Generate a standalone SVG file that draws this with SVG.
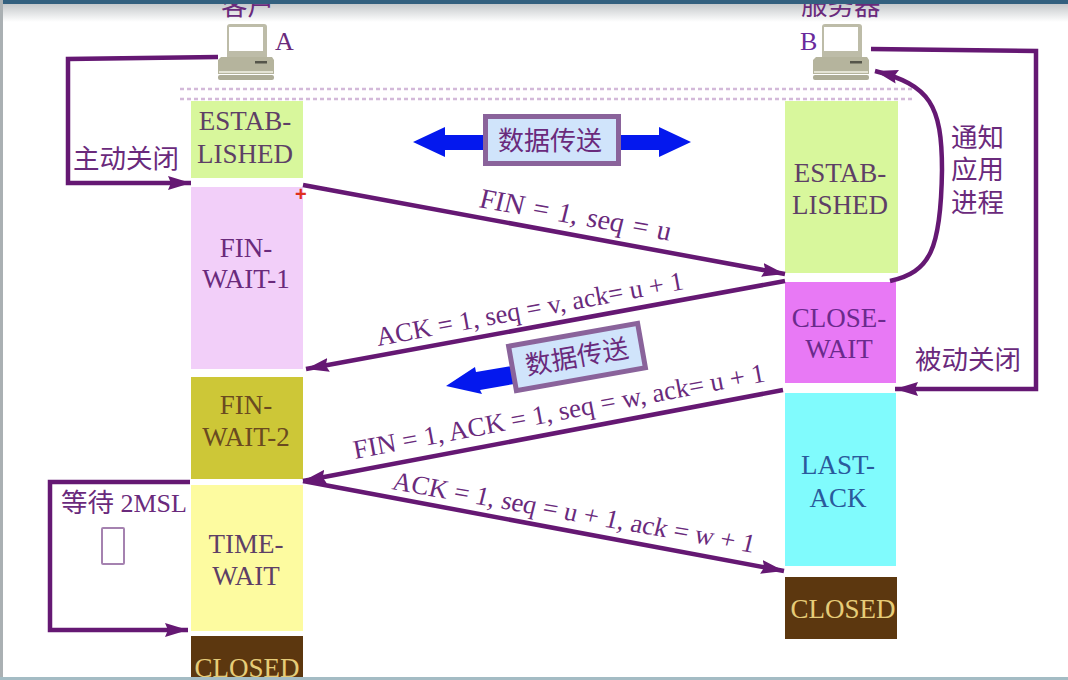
<svg xmlns="http://www.w3.org/2000/svg" width="1068" height="680" viewBox="0 0 1068 680">
<defs>
<linearGradient id="top" x1="0" y1="0" x2="0" y2="1"><stop offset="0" stop-color="#b8bcbf"/><stop offset="1" stop-color="#ffffff"/></linearGradient>
<marker id="ah" markerUnits="userSpaceOnUse" markerWidth="24" markerHeight="16" refX="23" refY="8" orient="auto"><path d="M0 1L23 8L0 15L3 8Z" fill="#651873"/></marker>
<g id="pc">
<rect x="9" y="0" width="40" height="36" rx="3" fill="#bdbca8"/>
<rect x="11" y="3" width="34" height="24" fill="#ffffff"/>
<path d="M3 33H54L56 36V50H0V36Z" fill="#b5b49d"/>
<rect x="37" y="37" width="12" height="2.5" fill="#55554a"/>
<rect x="1" y="47" width="54" height="2" fill="#e4e3d4"/>
<rect x="0" y="51" width="56" height="5" rx="2" fill="#adac96"/>
</g>
</defs>
<style>
text{font-family:"Liberation Serif","Noto Sans CJK SC",serif;fill:#6a2a7c}
.cjk{font-family:"Noto Sans CJK SC","Liberation Serif",sans-serif;font-size:26.5px}
.s{font-size:27px;text-anchor:middle;fill:#5e3f66}
.c{stroke:#651873;stroke-width:4.500;fill:none}
.a{marker-end:url(#ah)}
.d{stroke:#d3b9d9;stroke-width:2.5;stroke-dasharray:4 3;fill:none}
.bar{fill:#0418ee}
.box{fill:#d0e4fb;stroke:#8a639b;stroke-width:5}
</style>
<rect width="1068" height="680" fill="#ffffff"/>
<rect id="top-shade" width="1068" height="22" fill="url(#top)"/>

<g id="dashes"><path class="d" d="M180 89H915M180 99H915"/></g>

<g id="client"><use href="#pc" x="218" y="24"/><text class="cjk" x="221" y="15">客户</text><text x="275" y="50" style="font-size:26px">A</text></g>
<g id="server"><use href="#pc" x="813" y="24"/><text class="cjk" x="801" y="15">服务器</text><text x="800" y="50" style="font-size:26px;fill:#6a2a9c">B</text></g>

<g id="a-established"><rect x="191" y="101" width="112" height="77" fill="#d8f79c"/><text class="s"><tspan x="245" y="130">ESTAB-</tspan><tspan x="245" y="163">LISHED</tspan></text></g>
<g id="a-finwait1"><rect x="191" y="187" width="112" height="182" fill="#f2cff9"/><text class="s" style="fill:#6a2a7c"><tspan x="246" y="257">FIN-</tspan><tspan x="246" y="288">WAIT-1</tspan></text><text x="295" y="201" style="font-size:20px;fill:#e0301e;font-weight:bold;font-family:'Liberation Sans',sans-serif">+</text></g>
<g id="a-finwait2"><rect x="191" y="377" width="112" height="102" fill="#cdc737"/><text class="s" style="fill:#6a4a20"><tspan x="246" y="414">FIN-</tspan><tspan x="246" y="446">WAIT-2</tspan></text></g>
<g id="a-timewait"><rect x="191" y="485" width="112" height="146" fill="#fdfba0"/><text class="s"><tspan x="246" y="553">TIME-</tspan><tspan x="246" y="585">WAIT</tspan></text></g>
<g id="a-closed"><rect x="191" y="636" width="112" height="44" fill="#5c370f"/><text class="s" style="fill:#e6cc78"><tspan x="247" y="677">CLOSED</tspan></text></g>

<g id="b-established"><rect x="785" y="101" width="113" height="172" fill="#d8f79c"/><text class="s"><tspan x="840" y="182">ESTAB-</tspan><tspan x="840" y="214">LISHED</tspan></text></g>
<g id="b-closewait"><rect x="785" y="282" width="111" height="101" fill="#e879f5"/><text class="s" style="fill:#6a2a8c"><tspan x="839" y="327">CLOSE-</tspan><tspan x="839" y="358">WAIT</tspan></text></g>
<g id="b-lastack"><rect x="785" y="393" width="111" height="173" fill="#80fbfd"/><text class="s" style="fill:#2a5a9c"><tspan x="838" y="474">LAST-</tspan><tspan x="838" y="507">ACK</tspan></text></g>
<g id="b-closed"><rect x="785" y="577" width="112" height="62" fill="#5c370f"/><text class="s" style="fill:#e6cc78"><tspan x="843" y="618">CLOSED</tspan></text></g>

<g id="connectors">
<path class="c a" d="M218 57L68 59V183H191"/>
<path class="c a" d="M303 185L785 274"/>
<path class="c a" d="M785 281L306 369"/>
<path class="c a" d="M783 390L303 481"/>
<path class="c a" d="M303 481L784 571"/>
<path class="c a" d="M190 482H50V630H188"/>
<path class="c a" d="M871 49L1036 51V389H895"/>
<path class="c a" d="M890 281C930 272 941 250 942 170C942 105 930 85 875 71"/>
</g>

<g id="label-active"><text class="cjk" x="73" y="168">主动关闭</text></g>
<g id="label-passive"><text class="cjk" x="915" y="369">被动关闭</text></g>
<g id="label-notify"><text class="cjk"><tspan x="951" y="147">通知</tspan><tspan x="951" y="179">应用</tspan><tspan x="951" y="212">进程</tspan></text></g>
<g id="label-wait"><text x="61" y="512" style="font-size:26px"><tspan class="cjk">等待</tspan> 2MSL</text><rect x="102" y="528" width="22" height="36" rx="1" fill="#ffffff" stroke="#a582b0" stroke-width="2"/></g>

<g id="msg1"><text style="font-size:28px;word-spacing:2px" transform="translate(478 207) rotate(10) skewX(-4)">FIN = 1, seq = u</text></g>
<g id="msg2"><text style="font-size:26.5px" transform="translate(378 346) rotate(-10.5)">ACK = 1, seq = v, ack= u + 1</text></g>
<g id="msg3"><text style="font-size:26.8px" transform="translate(355 459) rotate(-10.7)">FIN = 1, ACK = 1, seq = w, ack= u + 1</text></g>
<g id="msg4"><text style="font-size:26.500px" transform="translate(391 489) rotate(10) skewX(-4)">ACK = 1, seq = u + 1, ack = w + 1</text></g>

<g id="data1">
<path class="bar" d="M413 142L445 127V135H484V150H445V157ZM619 135H659V127L691 142L659 157V150H619Z"/>
<rect x="485.500" y="116.500" width="133" height="47" class="box"/>
<text class="cjk" x="498" y="150" style="font-size:26px">数据传送</text>
</g>
<g id="data2">
<path class="bar" d="M446 386L475 367L476 372L512 366L514 384L480 390L482 394Z"/>
<g transform="translate(577 357) rotate(-10)"><rect x="-65.500" y="-22.500" width="131" height="45" class="box"/><text class="cjk" x="-52" y="9" style="font-size:26px">数据传送</text></g>
</g>

<g id="frame">
<rect width="1068" height="4" fill="#33607f"/>
<rect x="0" y="0" width="3" height="680" fill="#aab0b3"/>
<rect x="0" y="677" width="1068" height="3" fill="#a4bcc4"/>
</g>
</svg>
